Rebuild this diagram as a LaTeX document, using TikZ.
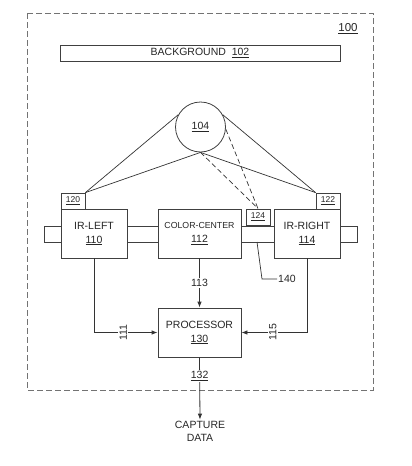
\documentclass[tikz,border=0pt]{standalone}
\usepackage{fontspec}
\setmainfont{Liberation Sans}
\usetikzlibrary{positioning, calc, arrows.meta}
\tikzstyle{Arrow} = [
%Filled arrow head for the data paths:
draw = black!80, line width = 0.8pt,
-{Latex[length = 6pt, width = 4.5pt]}
]

\begin{document}
\begin{tikzpicture}[
			x = 1pt, y = -1pt,
			every node/.style = {font = \fontsize{10.5}{14}\selectfont, text = black!85},
			block/.style = {rectangle, draw = black!75, fill = white, line width = 0.8pt, align = center, inner sep = 0pt},
			tag/.style = {rectangle, draw = black!75, fill = white, line width = 0.8pt, minimum width = 24pt, minimum height = 16pt, inner sep = 0pt, font = \fontsize{8.5}{10}\selectfont},
			ray/.style = {draw = black!80, line width = 0.7pt},
			ref/.style = {fill = white, inner sep = 1.5pt},
		]
		\useasboundingbox (0,0) rectangle (412,466);
		\draw[black!55, line width = 0.8pt, dash pattern = on 6pt off 3pt] (27,13) rectangle (373,390);

		\node(fig) at (348,29){\fontsize{11.5}{14}\selectfont\underline{100}};
		\node[block, minimum width = 280pt, minimum height = 16pt](bg) at (200,53){BACKGROUND\ \ \underline{102}};
		\node[block, circle, minimum size = 50pt](cam) at (200.5,127){\underline{104}};

		\node[block, minimum width = 313pt, minimum height = 16pt](rail) at (200.5,234){};
		\node[block, minimum width = 66pt, minimum height = 49pt](irl) at (94,233.5){IR-LEFT\\\underline{110}};
		\node[block, minimum width = 83pt, minimum height = 49pt](col) at (199.5,233.5){{\fontsize{8.75}{10}\selectfont COLOR-CENTER}\\\underline{112}};
		\node[block, minimum width = 66pt, minimum height = 49pt](irr) at (307,233.5){IR-RIGHT\\\underline{114}};
		\node[tag](s120) at (73,201){\underline{120}};
		\node[tag](s122) at (328,201){\underline{122}};
		\node[tag](s124) at (258,217){\underline{124}};

		\node[block, minimum width = 83pt, minimum height = 49pt](proc) at (199.5,332.5){PROCESSOR\\\underline{130}};
		\node[align = center, inner sep = 1pt, font = \fontsize{10.5}{13}\selectfont](cap) at (200,431){CAPTURE\\DATA};
		\node[inner sep = 1pt](n140) at (287,279){140};
		\coordinate(tap) at (257,242);

		\draw[ray](cam.151)--(s120.north east);
		\draw[ray](cam.south)--(s120.north east);
		\draw[ray](cam.29)--(s122.north west);
		\draw[ray](cam.south)--(s122.north west);
		\draw[ray, dash pattern = on 5pt off 3pt](cam.south)--(s124.north);
		\draw[ray, dash pattern = on 5pt off 3pt](cam.355)--(s124.north);
		\draw[ray](tap)--(262,279)--(n140.west);

		\draw[Arrow](irl.south)|-node[ref, rotate = 90, pos = 0.73]{111}(proc.west);
		\draw[Arrow](irr.south)|-node[ref, rotate = 90, pos = 0.76]{115}(proc.east);
		\draw[Arrow](col.south)--node[ref]{113}(proc.north);
		\draw[Arrow](proc.south)--node[ref, pos = 0.3]{\underline{132}}(cap.north);
	\end{tikzpicture}
\end{document}
